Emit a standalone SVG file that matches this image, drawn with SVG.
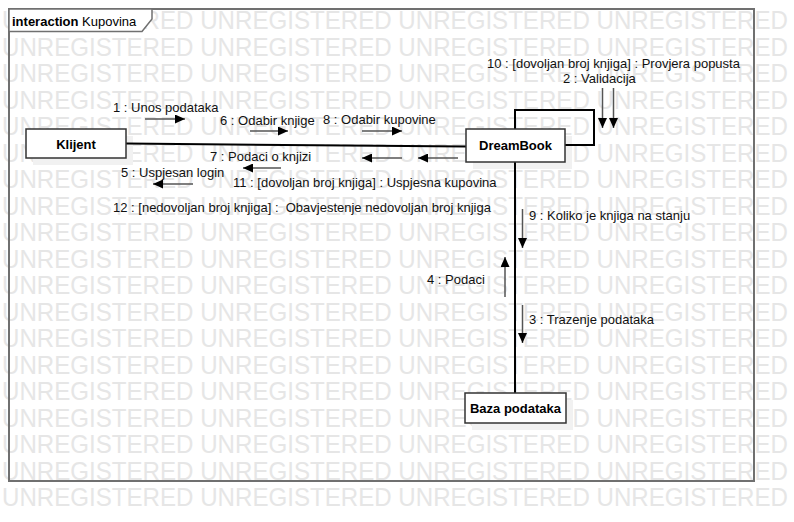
<svg xmlns="http://www.w3.org/2000/svg" width="794" height="522" viewBox="0 0 794 522">
<style>
.wm{font-family:"Liberation Sans",Arial,sans-serif;font-size:25px;fill:#e6e6e6}
.lbl{font-family:"Liberation Sans",Arial,sans-serif;font-size:13px;fill:#111}
.nm{font-family:"Liberation Sans",Arial,sans-serif;font-size:13px;font-weight:bold;fill:#000;text-anchor:middle}
.box{fill:#fff;stroke:#333;stroke-width:1.5}
.shadow{fill:#f1f1f1}
.link{stroke:#000;stroke-width:2;fill:none}
.msg{stroke:#555;stroke-width:1.5;fill:none;marker-end:url(#ah)}
.frame{fill:none;stroke:#707070;stroke-width:2}
</style>
<defs>
<marker id="ah" markerUnits="userSpaceOnUse" markerWidth="10" markerHeight="9" refX="10" refY="4.5" orient="auto"><path d="M0,0 L10,4.5 L0,9 z" fill="#000"/></marker>
</defs>
<rect x="0" y="0" width="794" height="522" fill="#fff"/>
<g id="watermark" class="wm">
<text x="2" y="29" textLength="786" lengthAdjust="spacingAndGlyphs">UNREGISTERED UNREGISTERED UNREGISTERED UNREGISTERED</text>
<text x="2" y="55.5" textLength="786" lengthAdjust="spacingAndGlyphs">UNREGISTERED UNREGISTERED UNREGISTERED UNREGISTERED</text>
<text x="2" y="82" textLength="786" lengthAdjust="spacingAndGlyphs">UNREGISTERED UNREGISTERED UNREGISTERED UNREGISTERED</text>
<text x="2" y="108.5" textLength="786" lengthAdjust="spacingAndGlyphs">UNREGISTERED UNREGISTERED UNREGISTERED UNREGISTERED</text>
<text x="2" y="135" textLength="786" lengthAdjust="spacingAndGlyphs">UNREGISTERED UNREGISTERED UNREGISTERED UNREGISTERED</text>
<text x="2" y="161.5" textLength="786" lengthAdjust="spacingAndGlyphs">UNREGISTERED UNREGISTERED UNREGISTERED UNREGISTERED</text>
<text x="2" y="188" textLength="786" lengthAdjust="spacingAndGlyphs">UNREGISTERED UNREGISTERED UNREGISTERED UNREGISTERED</text>
<text x="2" y="214.5" textLength="786" lengthAdjust="spacingAndGlyphs">UNREGISTERED UNREGISTERED UNREGISTERED UNREGISTERED</text>
<text x="2" y="241" textLength="786" lengthAdjust="spacingAndGlyphs">UNREGISTERED UNREGISTERED UNREGISTERED UNREGISTERED</text>
<text x="2" y="267.5" textLength="786" lengthAdjust="spacingAndGlyphs">UNREGISTERED UNREGISTERED UNREGISTERED UNREGISTERED</text>
<text x="2" y="294" textLength="786" lengthAdjust="spacingAndGlyphs">UNREGISTERED UNREGISTERED UNREGISTERED UNREGISTERED</text>
<text x="2" y="320.5" textLength="786" lengthAdjust="spacingAndGlyphs">UNREGISTERED UNREGISTERED UNREGISTERED UNREGISTERED</text>
<text x="2" y="347" textLength="786" lengthAdjust="spacingAndGlyphs">UNREGISTERED UNREGISTERED UNREGISTERED UNREGISTERED</text>
<text x="2" y="373.5" textLength="786" lengthAdjust="spacingAndGlyphs">UNREGISTERED UNREGISTERED UNREGISTERED UNREGISTERED</text>
<text x="2" y="400" textLength="786" lengthAdjust="spacingAndGlyphs">UNREGISTERED UNREGISTERED UNREGISTERED UNREGISTERED</text>
<text x="2" y="426.5" textLength="786" lengthAdjust="spacingAndGlyphs">UNREGISTERED UNREGISTERED UNREGISTERED UNREGISTERED</text>
<text x="2" y="453" textLength="786" lengthAdjust="spacingAndGlyphs">UNREGISTERED UNREGISTERED UNREGISTERED UNREGISTERED</text>
<text x="2" y="479.5" textLength="786" lengthAdjust="spacingAndGlyphs">UNREGISTERED UNREGISTERED UNREGISTERED UNREGISTERED</text>
<text x="2" y="506" textLength="786" lengthAdjust="spacingAndGlyphs">UNREGISTERED UNREGISTERED UNREGISTERED UNREGISTERED</text>
</g>
<g id="frame">
<rect class="frame" x="9" y="9" width="745" height="472"/>
<path d="M9,9 H152 V19 L142,31.5 H9 Z" fill="#fff" stroke="#707070" stroke-width="1.5"/>
<text x="12" y="25.5" font-family="'Liberation Sans',Arial,sans-serif" font-size="13" fill="#000"><tspan font-weight="bold">interaction</tspan> Kupovina</text>
</g>
<g id="shadows">
<rect class="shadow" x="33" y="136" width="100" height="29"/>
<rect class="shadow" x="473" y="136" width="99" height="33"/>
<rect class="shadow" x="472" y="400" width="101" height="30"/>
</g>
<g id="connectors">
<path class="link" d="M126,143.5 L466,146.5"/>
<path class="link" d="M515,129 V110 H594 V145 H565"/>
<path class="link" d="M515,162 V393"/>
<line class="msg" x1="145" y1="119" x2="185" y2="119"/>
<line class="msg" x1="250" y1="131" x2="288" y2="131"/>
<line class="msg" x1="362" y1="131" x2="402" y2="131"/>
<line class="msg" x1="402" y1="158" x2="362" y2="158"/>
<line class="msg" x1="458" y1="158" x2="418" y2="158"/>
<line class="msg" x1="281" y1="168" x2="243" y2="168"/>
<line class="msg" x1="193" y1="184" x2="153" y2="184"/>
<line class="msg" x1="602.5" y1="88" x2="602.5" y2="128"/>
<line class="msg" x1="613.5" y1="88" x2="613.5" y2="128"/>
<line class="msg" x1="522.5" y1="209" x2="522.5" y2="248"/>
<line class="msg" x1="505" y1="297" x2="505" y2="257"/>
<line class="msg" x1="522.5" y1="305" x2="522.5" y2="343"/>
<g id="labels" class="lbl">
<text x="113" y="112">1 : Unos podataka</text>
<text x="220" y="125">6 : Odabir knjige</text>
<text x="323" y="124">8 : Odabir kupovine</text>
<text x="210" y="161">7 : Podaci o knjizi</text>
<text x="121" y="177">5 : Uspjesan login</text>
<text x="233" y="187">11 : [dovoljan broj knjiga] : Uspjesna kupovina</text>
<text x="113" y="212" xml:space="preserve">12 : [nedovoljan broj knjiga] :  Obavjestenje nedovoljan broj knjiga</text>
<text x="487" y="68">10 : [dovoljan broj knjiga] : Provjera popusta</text>
<text x="563" y="83">2 : Validacija</text>
<text x="529" y="220">9 : Koliko je knjiga na stanju</text>
<text x="427" y="284">4 : Podaci</text>
<text x="529" y="324">3 : Trazenje podataka</text>
</g>
</g>
<g id="klijent">
<rect class="box" x="26" y="129" width="100" height="29"/>
<text class="nm" x="76" y="148.5">Klijent</text>
</g>
<g id="dreambook">
<rect class="box" x="466" y="129" width="99" height="33"/>
<text class="nm" x="515.5" y="150">DreamBook</text>
</g>
<g id="baza">
<rect class="box" x="465" y="393" width="101" height="30"/>
<text class="nm" x="515.5" y="412.5">Baza podataka</text>
</g>
</svg>
